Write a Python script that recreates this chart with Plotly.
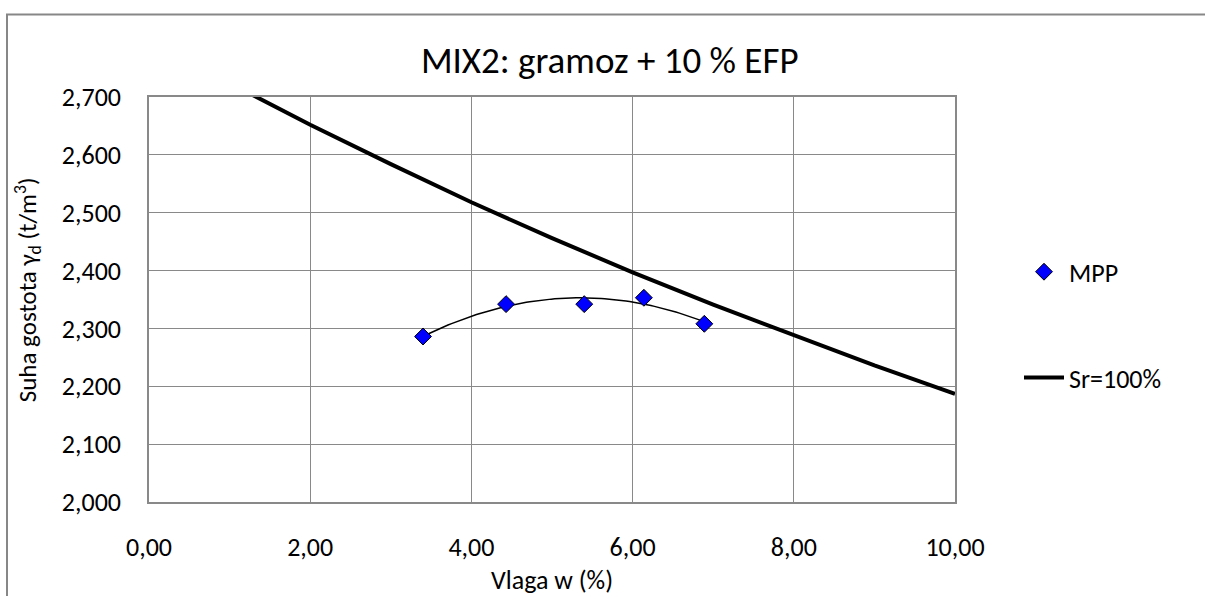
import numpy as np
import plotly.graph_objects as go

# MPP measurements (moisture %, dry density t/m3)
mpp_w = [3.40, 4.43, 5.40, 6.14, 6.89]
mpp_gd = [2.286, 2.342, 2.342, 2.353, 2.308]

# Saturation line Sr = 100 %
sr_w = [1.0, 2.0, 3.0, 4.0, 5.0, 6.0, 7.0, 8.0, 9.0, 10.0]
sr_gd = [2.724, 2.652, 2.584, 2.518, 2.456, 2.397, 2.341, 2.288, 2.236, 2.187]

# 2nd order polynomial trendline through MPP (regression of the data)
coef = np.polyfit(mpp_w, mpp_gd, 2)
tw = np.linspace(min(mpp_w), max(mpp_w), 80)
tg = np.polyval(coef, tw)

FONT = "Carlito, Calibri, Open Sans, sans-serif"
GRID = "#898989"

fig = go.Figure()
fig.add_trace(go.Scatter(x=tw, y=tg, mode="lines", line=dict(color="black", width=1.5),
                         showlegend=False, hoverinfo="skip"))
fig.add_trace(go.Scatter(x=mpp_w, y=mpp_gd, mode="markers", name="MPP", legendgroup="a",
                         marker=dict(symbol="diamond", size=13, color="#0000FF",
                                     line=dict(color="black", width=1))))
fig.add_trace(go.Scatter(x=sr_w, y=sr_gd, mode="lines", name="Sr=100%", legendgroup="b",
                         line=dict(color="black", width=4)))

fig.update_layout(
    width=1205, height=596,
    margin=dict(l=149, r=250, t=96.5, b=94),
    paper_bgcolor="white", plot_bgcolor="white",
    separators=",.",
    font=dict(family=FONT, size=26, color="black"),
    title=dict(text="MIX2: gramoz + 10 % EFP", x=0.506, xanchor="center",
               y=1 - 60 / 596, yanchor="middle", font=dict(size=37)),
    xaxis=dict(range=[0, 10], dtick=2, tickformat=".2f", showgrid=True, gridcolor=GRID,
               gridwidth=1.2, showline=True, linecolor=GRID, linewidth=1.5, mirror=True,
               zeroline=False, ticks="", ticklabelstandoff=21, tickfont=dict(size=26)),
    yaxis=dict(range=[2.0, 2.7], dtick=0.1, tickformat=".3f", showgrid=True, gridcolor=GRID,
               gridwidth=1.2, showline=True, linecolor=GRID, linewidth=1.5, mirror=True,
               zeroline=False, ticks="", ticklabelstandoff=21, tickfont=dict(size=26)),
    legend=dict(x=1.0 + (1019 - 955) / 806, xanchor="left", y=1 - (248 - 96.5) / 405.5,
                yanchor="top", tracegroupgap=69, itemwidth=40, traceorder="grouped",
                bgcolor="rgba(0,0,0,0)", font=dict(size=26)),
    annotations=[
        dict(text="Suha gostota γ<sub>d</sub> (t/m<sup>3</sup>)", xref="paper", yref="paper",
             x=(28 - 149) / 806, y=(502 - 290) / 405.5, xanchor="center", yanchor="middle",
             textangle=-90, showarrow=False, font=dict(size=25)),
        dict(text="Vlaga w (%)", xref="paper", yref="paper", x=0.5, y=(502 - 580) / 405.5,
             xanchor="center", yanchor="middle", showarrow=False, font=dict(size=26)),
    ],
    shapes=[
        dict(type="rect", xref="paper", yref="paper", x0=(7 - 149) / 806, x1=1.5,
             y0=-0.5, y1=1 + (96.5 - 14) / 405.5, line=dict(color="#878787", width=2),
             fillcolor="rgba(0,0,0,0)", layer="below"),
    ],
)

fig.write_html("out.html")
